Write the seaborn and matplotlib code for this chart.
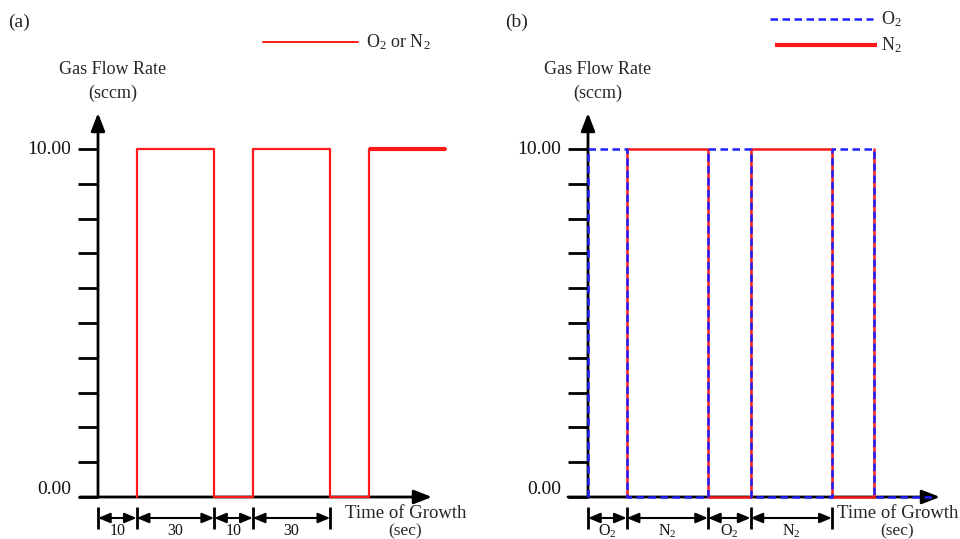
import numpy as np
import pandas as pd
import matplotlib
matplotlib.use("Agg")
import matplotlib.pyplot as plt
import seaborn as sns

# ---- data (schematic time units) ----
time_a = [10, 10, 30, 40, 60, 70, 90]
flow_a = [0, 10, 0, 10, 0, 10, 10]

time_b_n2 = [10, 10, 31, 42, 63, 74]
flow_b_n2 = [0, 10, 0, 10, 0, 10]
time_b_o2 = [0, 0, 10, 31, 42, 63, 74, 90]
flow_b_o2 = [0, 10, 0, 10, 0, 10, 0, 0]

brackets_a = [0, 10, 30, 40, 60]
bracket_labels_a = ["10", "30", "10", "30"]
brackets_b = [0, 10, 31, 42, 63]
bracket_labels_b = ["O$_2$", "N$_2$", "O$_2$", "N$_2$"]

ytick_values = list(range(0, 11))
ytick_labels = {10: "10.00", 0: "0.00"}

sns.set_theme(style="white")
plt.rcParams["font.family"] = ["Liberation Serif", "DejaVu Serif"]
plt.rcParams["mathtext.fontset"] = "custom"
plt.rcParams["mathtext.rm"] = "Liberation Serif"
plt.rcParams["mathtext.it"] = "Liberation Serif:italic"

RED = "#ff1a1a"
BLUE = "#1f1fff"
PXX = 3.87   # px per x unit
PXY = 34.8   # px per y unit
Y0 = 497
DASH = (0, (3.0, 1.8))

fig = plt.figure(figsize=(9.6, 5.39), dpi=100)
axA = fig.add_axes([0, 0, 0.5, 1])
axB = fig.add_axes([0.5, 0, 0.5, 1])


def setup(ax, x0px, left_px):
    ax.set_xlim((left_px - x0px) / PXX, (left_px + 480 - x0px) / PXX)
    ax.set_ylim((Y0 - 539) / PXY, Y0 / PXY)
    ax.axis("off")
    fx = lambda px: (px - x0px) / PXX
    fy = lambda py: (Y0 - py) / PXY
    return fx, fy


def draw_axes(ax, fx, fy, x0px, xend_px, xstart_px):
    ax.annotate("", xy=(0, fy(113)), xytext=(0, 0),
                arrowprops=dict(arrowstyle="-|>,head_length=0.9,head_width=0.35",
                                color="black", lw=2, shrinkA=0, shrinkB=0), zorder=5)
    ax.annotate("", xy=(fx(xend_px), 0), xytext=(fx(xstart_px), 0),
                arrowprops=dict(arrowstyle="-|>,head_length=0.9,head_width=0.35",
                                color="black", lw=2, shrinkA=0, shrinkB=0), zorder=1)
    for v in ytick_values:
        ax.plot([fx(x0px - 20), 0], [v, v], color="black", lw=2, solid_capstyle="butt")
    for v, lab in ytick_labels.items():
        ax.text(fx(x0px - 27), v + (0.22 if v == 0 else 0), lab,
                ha="right", va="center", fontsize=14, color="#111111")


def draw_brackets(ax, fx, fy, bounds, labels):
    yb = fy(518)
    for b in bounds:
        ax.plot([b, b], [fy(507), fy(529)], color="black", lw=2, solid_capstyle="butt")
    for a, b, lab in zip(bounds[:-1], bounds[1:], labels):
        ax.annotate("", xy=(b, yb), xytext=(a, yb),
                    arrowprops=dict(arrowstyle="<|-|>,head_length=0.6,head_width=0.25",
                                    color="black", lw=1.5, shrinkA=0, shrinkB=0))
        ax.text((a + b) / 2, fy(531), lab, ha="center", va="center", fontsize=11.5,
                color="#111111")


# ---------- panel (a) ----------
fxA, fyA = setup(axA, 98, 0)
dfa = pd.DataFrame({"t": time_a, "f": flow_a})
sns.lineplot(data=dfa, x="t", y="f", ax=axA, color=RED, lw=1.6, drawstyle="steps-post",
             estimator=None, sort=False, zorder=3)
axA.plot([time_a[-2], time_a[-1]], [flow_a[-1], flow_a[-1]], color=RED, lw=3,
         solid_capstyle="butt", zorder=3)
draw_axes(axA, fxA, fyA, 98, 432, 80)
draw_brackets(axA, fxA, fyA, brackets_a, bracket_labels_a)
axA.text(fxA(8), fyA(22), "(a)", ha="left", va="center", fontsize=14)
axA.text(fxA(113), fyA(69), "Gas Flow Rate", ha="center", va="center", fontsize=13)
axA.text(fxA(113), fyA(93), "(sccm)", ha="center", va="center", fontsize=13)
axA.text(fxA(345), fyA(513), "Time of Growth", ha="left", va="center", fontsize=13.5)
axA.text(fxA(405), fyA(535), "(sec)", ha="center", va="baseline", fontsize=12.5)
axA.plot([fxA(263), fxA(358)], [fyA(42)] * 2, color=RED, lw=1.4)
axA.text(fxA(366), fyA(42), "O$_2$ or N$_2$", ha="left", va="center", fontsize=13)

# ---------- panel (b) ----------
fxB, fyB = setup(axB, 588, 480)
dfn = pd.DataFrame({"t": time_b_n2, "f": flow_b_n2})
dfo = pd.DataFrame({"t": time_b_o2, "f": flow_b_o2})
sns.lineplot(data=dfn, x="t", y="f", ax=axB, color=RED, lw=1.8, drawstyle="steps-post",
             estimator=None, sort=False, zorder=3)
sns.lineplot(data=dfo, x="t", y="f", ax=axB, color=BLUE, lw=1.8, drawstyle="steps-post",
             estimator=None, sort=False, zorder=6, linestyle=DASH)
draw_axes(axB, fxB, fyB, 588, 940, 568)
draw_brackets(axB, fxB, fyB, brackets_b, bracket_labels_b)
axB.text(fxB(505), fyB(22), "(b)", ha="left", va="center", fontsize=14)
axB.text(fxB(598), fyB(70), "Gas Flow Rate", ha="center", va="center", fontsize=13)
axB.text(fxB(598), fyB(93), "(sccm)", ha="center", va="center", fontsize=13)
axB.text(fxB(837), fyB(513), "Time of Growth", ha="left", va="center", fontsize=13.5)
axB.text(fxB(897), fyB(535), "(sec)", ha="center", va="baseline", fontsize=12.5)
axB.plot([fxB(770), fxB(873)], [fyB(19)] * 2, color=BLUE, lw=1.8, linestyle=DASH)
axB.text(fxB(881), fyB(19), "O$_2$", ha="left", va="center", fontsize=13)
axB.plot([fxB(775), fxB(877)], [fyB(45)] * 2, color=RED, lw=3, solid_capstyle="butt")
axB.text(fxB(881), fyB(45), "N$_2$", ha="left", va="center", fontsize=13)

for ax in (axA, axB):
    lg = ax.get_legend()
    if lg:
        lg.remove()

fig.savefig("out.png", dpi=100)
